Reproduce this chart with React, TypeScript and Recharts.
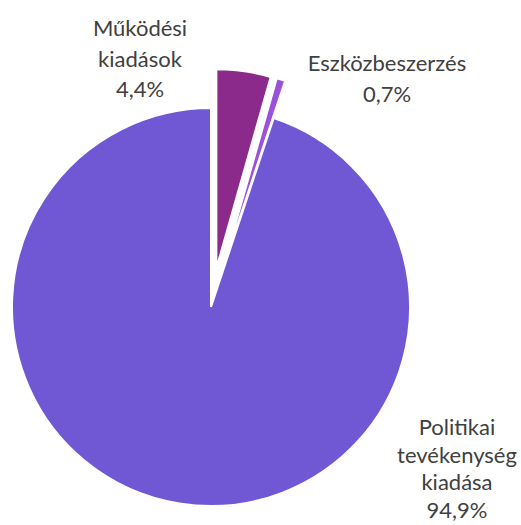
import React from 'react';
import { PieChart, Pie, Cell } from 'recharts';

const categories = ['Működési kiadások', 'Eszközbeszerzés', 'Politikai tevékenység kiadása'];
const values = [4.4, 0.7, 94.9];
const labelLines = [
  ['Működési', 'kiadások', '4,4%'],
  ['Eszközbeszerzés', '0,7%'],
  ['Politikai', 'tevékenység', 'kiadása', '94,9%'],
];
const colors = ['#8B2A8B', '#9B52D8', '#7058D5'];
const exploded = [true, true, false];

// layout
const W = 521;
const H = 525;
const CX = 211;
const CY = 307;
const R = 199;
const EXPLODE = 39;
const labelPos = [
  { x: 140, y: 36, lh: 30.5 },
  { x: 387, y: 71, lh: 31 },
  { x: 457, y: 435, lh: 27.5 },
];

const data = categories.map((name, i) => ({ name, value: values[i] }));
const total = values.reduce((a, b) => a + b, 0);

const offsets = values.map((v, i) => {
  const before = values.slice(0, i).reduce((a, b) => a + b, 0);
  const mid = ((before + v / 2) / total) * 2 * Math.PI;
  const d = exploded[i] ? EXPLODE : 0;
  return { dx: d * Math.sin(mid), dy: -d * Math.cos(mid) };
});

const renderLabel = (props: any) => {
  const i = props.index;
  const p = labelPos[i];
  return (
    <g key={`lbl-${i}`}>
      {labelLines[i].map((t, k) => (
        <text
          key={k}
          x={p.x}
          y={p.y + k * p.lh}
          textAnchor="middle"
          fontFamily="Lato, 'Open Sans', sans-serif"
          fontSize={22}
          fill="#404040"
        >
          {t}
        </text>
      ))}
    </g>
  );
};

export default function App() {
  return (
    <div style={{ position: 'absolute', left: 0, top: 0, width: W, height: H, background: '#fff' }}>
      <PieChart width={W} height={H} margin={{ top: 0, right: 0, bottom: 0, left: 0 }}>
        {values.map((_, i) => (
          <Pie
            key={i}
            data={data}
            dataKey="value"
            nameKey="name"
            cx={CX + offsets[i].dx}
            cy={CY + offsets[i].dy}
            outerRadius={R}
            innerRadius={0}
            startAngle={90}
            endAngle={-270}
            isAnimationActive={false}
            label={i === 0 ? renderLabel : false}
            labelLine={false}
          >
            {data.map((_, j) => (
              <Cell
                key={j}
                fill={j === i ? colors[j] : 'transparent'}
                stroke={j === i ? '#ffffff' : 'none'}
                strokeWidth={j === i ? 2 : 0}
              />
            ))}
          </Pie>
        ))}
      </PieChart>
    </div>
  );
}
